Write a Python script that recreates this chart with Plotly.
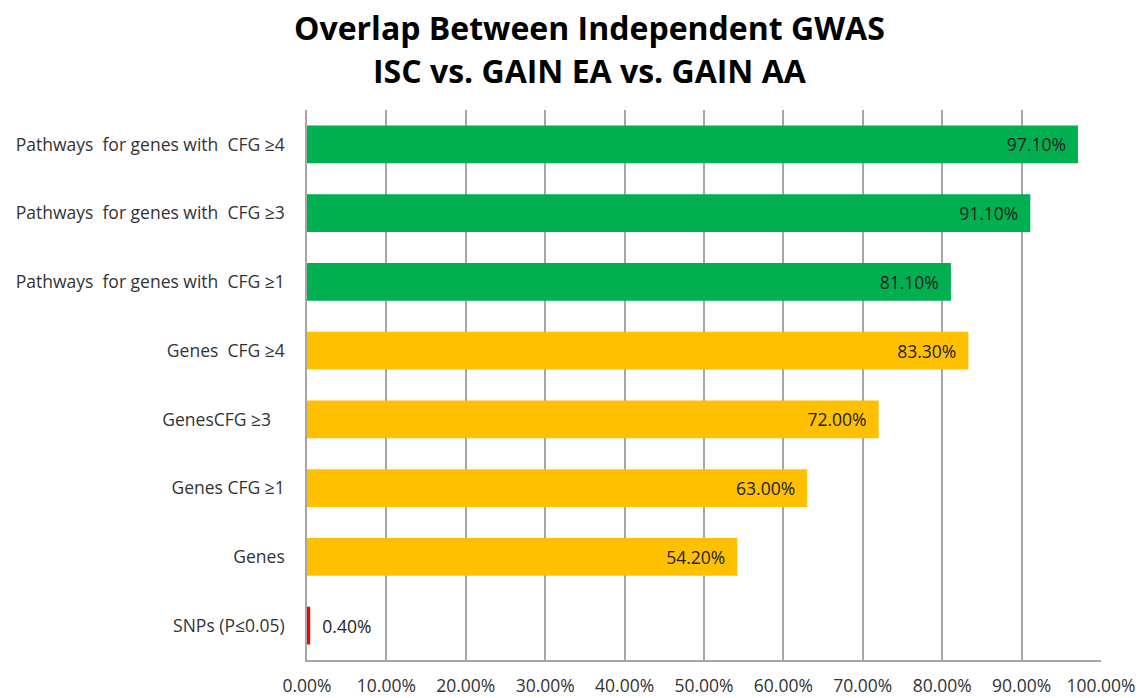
import plotly.graph_objects as go

NB = "\u00a0"
categories = [
    "SNPs (P≤0.05)",
    "Genes",
    "Genes CFG ≥1",
    "GenesCFG ≥3" + NB * 3,
    "Genes" + NB * 2 + "CFG ≥4",
    "Pathways" + NB * 2 + "for genes with" + NB * 2 + "CFG ≥1",
    "Pathways" + NB * 2 + "for genes with" + NB * 2 + "CFG ≥3",
    "Pathways" + NB * 2 + "for genes with" + NB * 2 + "CFG ≥4",
]
values = [0.004, 0.542, 0.63, 0.72, 0.833, 0.811, 0.911, 0.971]
colors = ["#FF0000", "#FFC000", "#FFC000", "#FFC000", "#FFC000", "#00B050", "#00B050", "#00B050"]
tick_vals = [0.0, 0.1, 0.2, 0.3, 0.4, 0.5, 0.6, 0.7, 0.8, 0.9, 1.0]
tick_text = ["0.00%", "10.00%", "20.00%", "30.00%", "40.00%", "50.00%",
             "60.00%", "70.00%", "80.00%", "90.00%", "100.00%"]
title_lines = ["Overlap Between Independent GWAS", "ISC vs. GAIN EA vs. GAIN AA"]

font_family = "'Open Sans', Lato, sans-serif"

labels = [f"{NB}{NB}{v*100:.2f}%" if i == 0 else f"{v*100:.2f}%{NB}{NB}"
          for i, v in enumerate(values)]

fig = go.Figure()
fig.add_trace(go.Bar(
    x=values,
    y=categories,
    orientation="h",
    marker=dict(color=colors, line=dict(width=0)),
    width=0.55,
    text=labels,
    textposition=["outside"] + ["inside"] * 7,
    insidetextanchor="end",
    textfont=dict(family=font_family, size=17.5, color="#222222"),
    cliponaxis=False,
    hoverinfo="skip",
))

fig.update_layout(
    width=1147, height=698,
    paper_bgcolor="white", plot_bgcolor="white",
    margin=dict(l=307, r=46, t=110, b=38, autoexpand=False),
    showlegend=False,
    font=dict(family=font_family, size=17.5, color="#333333"),
    annotations=[
        dict(text="<b>" + title_lines[0] + "</b>", xref="paper", yref="paper",
             x=0.356, y=1.0, xanchor="center", yanchor="middle",
             yshift=83, showarrow=False,
             font=dict(family=font_family, size=32, color="#000000")),
        dict(text="<b>" + title_lines[1] + "</b>", xref="paper", yref="paper",
             x=0.356, y=1.0, xanchor="center", yanchor="middle",
             yshift=40, showarrow=False,
             font=dict(family=font_family, size=32, color="#000000")),
    ],
)
fig.update_xaxes(
    range=[0, 1.0],
    tickvals=tick_vals, ticktext=tick_text,
    showgrid=True, gridcolor="#A6A6A6", gridwidth=1.5,
    showline=True, linecolor="#A6A6A6", linewidth=1.5,
    zeroline=False, ticks="", ticklabelstandoff=9,
    tickfont=dict(size=17.5, color="#333333"),
    automargin=False, fixedrange=True,
)
fig.update_yaxes(
    showgrid=False, showline=True, linecolor="#A6A6A6", linewidth=1.5,
    ticks="", ticklabelstandoff=17,
    tickfont=dict(size=17.5, color="#333333"),
    automargin=False, fixedrange=True,
)

fig.write_html("out.html", config={"displayModeBar": False},
               post_script="document.body.style.margin='0';")
